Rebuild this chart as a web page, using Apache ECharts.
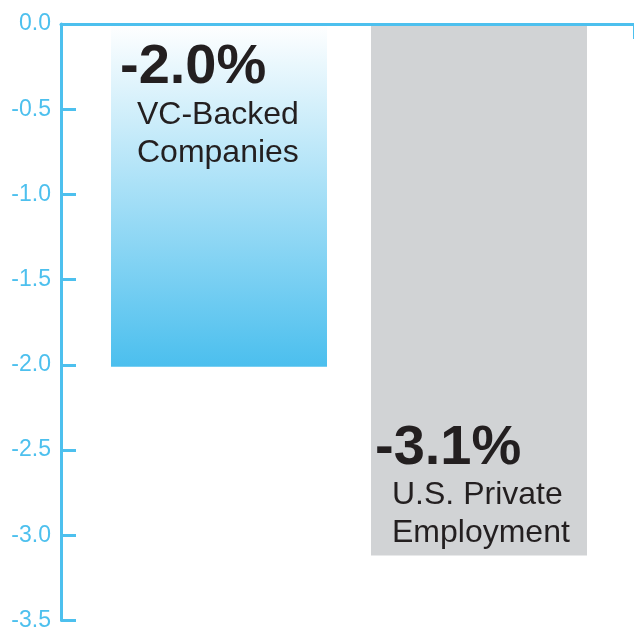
<!DOCTYPE html>
<html>
<head>
<meta charset="utf-8">
<script src="https://cdn.jsdelivr.net/npm/echarts@6/dist/echarts.min.js"></script>
<style>
html, body { margin: 0; padding: 0; background: #ffffff; }
#chart { width: 634px; height: 632px; }
</style>
</head>
<body>
<div id="chart"></div>
<script>
// data
var categories = ['VC-Backed\nCompanies', 'U.S. Private\nEmployment']
var values = [-2.0, -3.1]
var yTicks = [0, -0.5, -1.0, -1.5, -2.0, -2.5, -3.0, -3.5]

var blue = '#4dc0ee'
var ink = '#231f20'
var font = '"Liberation Sans", Arial, sans-serif'

// label placement per bar (first one hangs from the top, second sits on the bottom)
var labelPlace = [
  { position: 'insideTopLeft', offset: [9, 16] },
  { position: 'insideBottomLeft', offset: [4, -3] }
]

var barData = values.map(function (v, i) {
  return {
    value: v,
    itemStyle: i === 0 ? {
      color: new echarts.graphic.LinearGradient(0, 0, 0, 1, [
        { offset: 0, color: '#ffffff' },
        { offset: 1, color: '#4bbfee' }
      ])
    } : { color: '#d1d3d5' },
    label: {
      show: true,
      position: labelPlace[i].position,
      offset: labelPlace[i].offset,
      distance: 0,
      formatter: function (p) {
        var pct = '{a|' + p.value.toFixed(1) + '%}'
        var lines = p.name.split('\n').map(function (s) { return '{b|' + s + '}' })
        return [pct].concat(lines).join('\n')
      },
      rich: {
        a: { fontFamily: font, fontWeight: 'bold', fontSize: 56, lineHeight: 56, color: ink },
        b: { fontFamily: font, fontSize: 32, lineHeight: 38, color: ink, padding: [0, 0, 0, 17] }
      }
    }
  }
})

var chart = echarts.init(document.getElementById('chart'))
chart.setOption({
  animation: false,
  grid: [
    { left: 61, right: 0, top: 24, bottom: 8 },
    { left: 89, right: 25, top: 24, bottom: 8 }
  ],
  xAxis: [
    {
      // frame line along the top with the end tick on the right
      gridIndex: 0,
      type: 'category',
      position: 'top',
      data: [''],
      z: 10,
      axisLine: { lineStyle: { color: blue, width: 3 } },
      axisTick: { show: true, inside: true, length: 15, lineStyle: { color: blue, width: 3 } },
      axisLabel: { show: false }
    },
    {
      gridIndex: 1,
      type: 'category',
      data: categories,
      show: false
    }
  ],
  yAxis: [
    {
      gridIndex: 0,
      type: 'value',
      min: yTicks[yTicks.length - 1],
      max: yTicks[0],
      interval: 0.5,
      z: 10,
      axisLine: { show: true, lineStyle: { color: blue, width: 3 } },
      axisTick: { show: true, inside: true, length: 15, lineStyle: { color: blue, width: 3 } },
      axisLabel: {
        color: blue,
        fontFamily: font,
        fontSize: 23,
        margin: 10,
        formatter: function (v) { return v.toFixed(1) }
      },
      splitLine: { show: false }
    },
    {
      gridIndex: 1,
      type: 'value',
      min: yTicks[yTicks.length - 1],
      max: yTicks[0],
      interval: 0.5,
      show: false,
      splitLine: { show: false }
    }
  ],
  series: [
    {
      type: 'bar',
      xAxisIndex: 1,
      yAxisIndex: 1,
      barWidth: 216,
      data: barData
    }
  ]
})
</script>
</body>
</html>
